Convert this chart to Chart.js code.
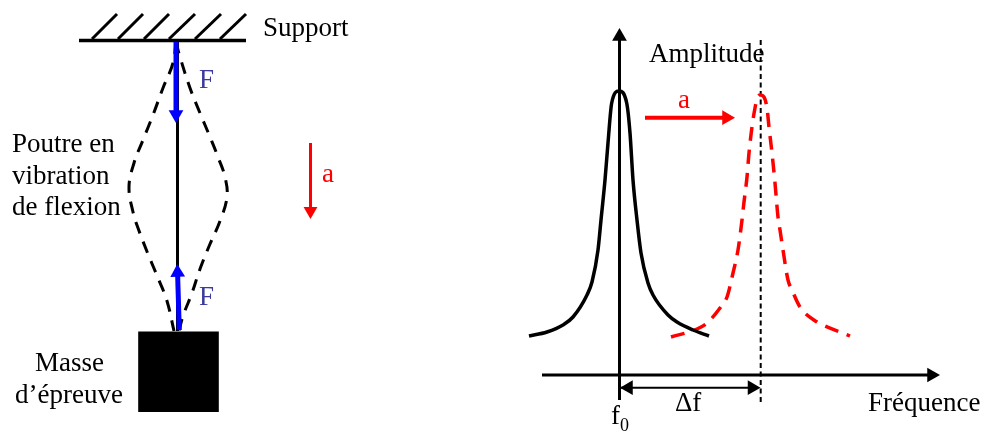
<!DOCTYPE html>
<html>
<head>
<meta charset="utf-8">
<title>Poutre en vibration de flexion</title>
<script src="https://cdn.jsdelivr.net/npm/chart.js@4"></script>
<style>
  html, body { margin: 0; padding: 0; background: #fff; }
  #schema { display: block; }
</style>
</head>
<body>
<canvas id="schema" width="982" height="431"></canvas>
<script>
// Values (x to the right, y downwards)
const supportX = [79, 246];
const supportY = [40.5, 40.5];
const hatchBottomX = [92, 118, 144, 169, 195, 220];
const hatchTopX = [117, 143, 169, 195, 221, 246];
const hatchBottomY = 39;
const hatchTopY = 14;

const beamX = [177.5, 177.5];
const beamY = [40, 331];
const massX = [178.5];
const massY = [371.8];

const modeLeftX = [176, 173, 163, 153, 143, 134, 129, 133, 138, 148, 158, 167, 174];
const modeLeftY = [42, 63, 88, 115, 140, 163, 187, 212, 228, 254, 278, 301, 331];
const modeRightX = [176, 180, 190, 200, 210, 218, 225, 227, 220, 210, 200, 192, 183, 179];
const modeRightY = [42, 57, 88, 113, 137, 157, 177, 197, 221, 244, 269, 293, 316, 331];

const forceTopX = [176, 176];
const forceTopY = [42, 123];
const forceBottomX = [179.3, 177.3];
const forceBottomY = [330, 264];
const accelDownX = [310.5, 310.5];
const accelDownY = [143, 219];

const amplitudeAxisX = [619.5, 619.5];
const amplitudeAxisY = [400, 28];
const frequencyAxisX = [542, 940];
const frequencyAxisY = [375, 375];
const shiftMarkX = [760.7, 760.7];
const shiftMarkY = [40, 402];
const deltaX = [620, 760.5];
const deltaY = [387.7, 387.7];
const accelRightX = [645, 735];
const accelRightY = [117.7, 117.7];

const restFreq = [529, 547, 563, 573, 587, 592, 598, 601, 605, 608, 611.7, 619, 626.7, 630, 633, 637, 641, 648, 653, 668, 677, 693, 709];
const restAmp = [336, 332, 325, 317, 295, 282, 250, 220, 180, 143, 103, 91, 103, 133, 180, 220, 253, 283, 295, 315, 322, 330, 336];
const loadedFreq = [671, 697, 707, 720, 727, 733, 738, 742, 744, 747, 749, 752, 755, 757.7, 760.5, 764, 767, 769, 772, 775, 778, 780, 783, 788, 792, 800, 817, 823, 850];
const loadedAmp = [337, 329, 323, 308, 297, 273, 250, 220, 202, 177, 153, 127, 108, 97, 95, 97, 108, 127, 153, 183, 217, 230, 250, 280, 290, 307, 322, 325, 336];

const labels = [
  { text: 'Support', x: 263, y: 36 },
  { text: 'Poutre en', x: 12, y: 152 },
  { text: 'vibration', x: 12, y: 184 },
  { text: 'de flexion', x: 12, y: 215 },
  { text: 'Masse', x: 35, y: 371 },
  { text: 'd\u2019épreuve', x: 15, y: 403 },
  { text: 'F', x: 199, y: 88, color: '#3b3b9d' },
  { text: 'F', x: 199, y: 305, color: '#3b3b9d' },
  { text: 'a', x: 322, y: 182, color: '#ff0000' },
  { text: 'a', x: 678, y: 108, color: '#ff0000' },
  { text: 'Amplitude', x: 649, y: 62 },
  { text: '\u0394f', x: 675, y: 411 },
  { text: 'f', x: 611, y: 424 },
  { text: '0', x: 620, y: 431, size: 18 },
  { text: 'Fréquence', x: 868, y: 411 }
];

function zip(xs, ys) {
  return xs.map((x, i) => ({ x: x, y: ys[i] }));
}

function line(xs, ys, color, width, extra) {
  return Object.assign({
    data: zip(xs, ys),
    borderColor: color,
    borderWidth: width,
    pointRadius: 0,
    tension: 0,
    fill: false
  }, extra || {});
}

// arrow head = triangle point marker, its tip sits on (tipX, tipY)
function head(tipX, tipY, fromX, fromY, color, r) {
  const len = Math.hypot(tipX - fromX, tipY - fromY);
  const ux = (tipX - fromX) / len;
  const uy = (tipY - fromY) / len;
  return {
    data: [{ x: tipX - ux * r, y: tipY - uy * r }],
    showLine: false,
    pointStyle: 'triangle',
    pointRadius: r,
    pointBorderWidth: 0,
    pointBackgroundColor: color,
    rotation: Math.atan2(ux, -uy) * 180 / Math.PI
  };
}

// the shaft stops at the centre of the head so it does not poke through the tip
function arrow(xs, ys, color, width, r) {
  const h = head(xs[1], ys[1], xs[0], ys[0], color, r);
  const c = h.data[0];
  return [h, line([xs[0], c.x], [ys[0], c.y], color, width)];
}

const hatches = hatchBottomX.map((x, i) =>
  line([x, hatchTopX[i]], [hatchBottomY, hatchTopY], '#000', 3));

const datasets = [
  ...arrow(forceTopX, forceTopY, '#0000ff', 5, 8.5),
  ...arrow(forceBottomX, forceBottomY, '#0000ff', 5, 8.5),
  ...arrow(accelDownX, accelDownY, '#ff0000', 3, 8),
  ...arrow(accelRightX, accelRightY, '#ff0000', 4, 8.5),
  head(deltaX[0], deltaY[0], deltaX[1], deltaY[1], '#000', 8.5),
  ...arrow(deltaX, deltaY, '#000', 2, 8.5),
  ...arrow(amplitudeAxisX, amplitudeAxisY, '#000', 3, 8.5),
  ...arrow(frequencyAxisX, frequencyAxisY, '#000', 3, 8.5),
  line(restFreq, restAmp, '#000', 3.5, { cubicInterpolationMode: 'monotone' }),
  line(loadedFreq, loadedAmp, '#ff0000', 3.5, { cubicInterpolationMode: 'monotone', borderDash: [14, 9] }),
  line(shiftMarkX, shiftMarkY, '#000', 2, { borderDash: [5, 3.5] }),
  line(beamX, beamY, '#000', 3),
  line(modeLeftX, modeLeftY, '#000', 3, { tension: 0.4, borderDash: [12, 9] }),
  line(modeRightX, modeRightY, '#000', 3, { tension: 0.4, borderDash: [12, 9] }),
  line(supportX, supportY, '#000', 3.5),
  ...hatches,
  {
    data: zip(massX, massY),
    showLine: false,
    pointStyle: 'rect',
    pointRadius: 57,
    pointBorderWidth: 0,
    pointBackgroundColor: '#000'
  }
];

const textPlugin = {
  id: 'schemaText',
  afterDatasetsDraw(chart) {
    const ctx = chart.ctx;
    const sx = chart.scales.x;
    const sy = chart.scales.y;
    ctx.save();
    ctx.textBaseline = 'alphabetic';
    labels.forEach(l => {
      ctx.font = (l.size || 27) + 'px "Liberation Serif"';
      ctx.fillStyle = l.color || '#000';
      ctx.fillText(l.text, sx.getPixelForValue(l.x), sy.getPixelForValue(l.y));
    });
    ctx.restore();
  }
};

new Chart(document.getElementById('schema').getContext('2d'), {
  type: 'line',
  data: { datasets: datasets },
  plugins: [textPlugin],
  options: {
    responsive: false,
    animation: false,
    events: [],
    clip: false,
    layout: { padding: 0, autoPadding: false },
    plugins: {
      legend: { display: false },
      tooltip: { enabled: false }
    },
    scales: {
      x: { type: 'linear', min: 0, max: 982, display: false },
      y: { type: 'linear', min: 0, max: 431, reverse: true, display: false }
    }
  }
});
</script>
</body>
</html>
